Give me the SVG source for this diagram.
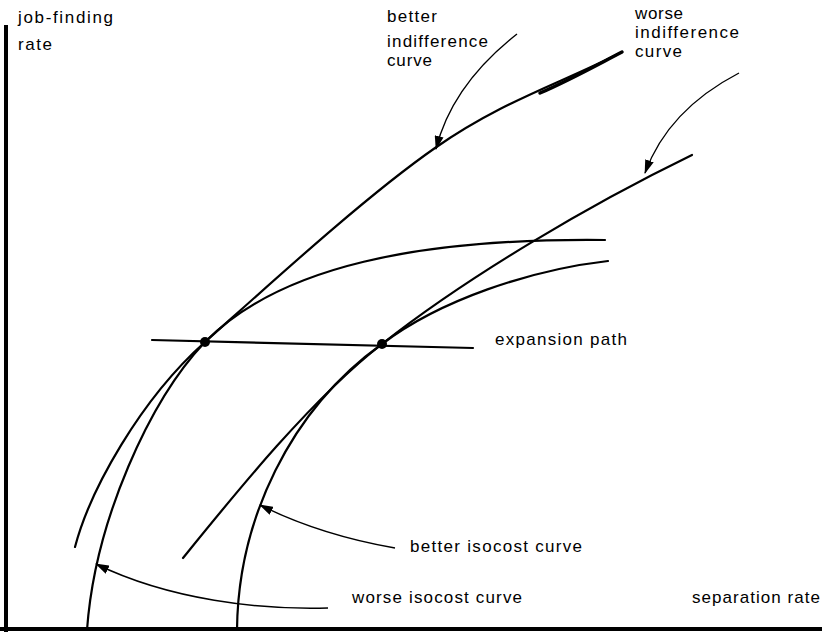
<svg xmlns="http://www.w3.org/2000/svg" width="825" height="632" viewBox="0 0 825 632">
<defs>
<marker id="ah" viewBox="0 0 14 9" refX="13" refY="4.5" markerWidth="14" markerHeight="9" markerUnits="userSpaceOnUse" orient="auto">
<path d="M0,0 L14,4.5 L0,9 Z" fill="#000"/>
</marker>
<style>
.t{font-family:"Liberation Sans","DejaVu Sans",sans-serif;font-size:17px;fill:#000}
.c{fill:none;stroke:#000;stroke-width:2.2;stroke-linecap:round}
.a{fill:none;stroke:#000;stroke-width:1.4;marker-end:url(#ah)}
.ax{fill:none;stroke:#000;stroke-width:4}
</style>
</defs>
<rect width="825" height="632" fill="#fff"/>
<g id="axes">
<line class="ax" x1="6" y1="25" x2="6" y2="632"/>
<line class="ax" x1="0" y1="629" x2="822" y2="629"/>
</g>
<g id="better-indifference-curve">
<path class="c" d="M75,547 C90,490 140,400 205,342 C270,284 366,196 435,148 C504,100 560,84 622,52"/>
<path class="c" style="stroke-width:3.5" d="M540,93 C570,80 595,66 622,52"/>
</g>
<g id="worse-indifference-curve">
<path class="c" d="M183,558 C230,500 310,400 382,344 C467,277 589,205 692,155"/>
</g>
<g id="worse-isocost-curve">
<path class="c" d="M87,630 C95,520 150,400 205,342 C280,266 420,238 605,240"/>
</g>
<g id="better-isocost-curve">
<path class="c" d="M237,630 C238,520 290,410 382,344 C440,300 530,270 608,261"/>
</g>
<g id="expansion-path">
<line class="c" x1="152" y1="340" x2="473" y2="348"/>
<circle cx="205" cy="342" r="5"/>
<circle cx="382" cy="344" r="5"/>
</g>
<g id="connectors">
<path class="a" d="M517,34 Q452,85 436,149"/>
<path class="a" d="M739,73 Q668,110 645,173"/>
<path class="a" d="M395,548 Q320,535 260,505"/>
<path class="a" d="M328,608 C260,610 170,600 96,564"/>
</g>
<g id="labels">
<text class="t" x="18" y="23" textLength="95" lengthAdjust="spacing">job-finding</text>
<text class="t" x="18" y="50" textLength="34" lengthAdjust="spacing">rate</text>
<text class="t" x="387" y="22" textLength="50" lengthAdjust="spacing">better</text>
<text class="t" x="387" y="47" textLength="101" lengthAdjust="spacing">indifference</text>
<text class="t" x="387" y="66" textLength="45" lengthAdjust="spacing">curve</text>
<text class="t" x="635" y="19" textLength="48" lengthAdjust="spacing">worse</text>
<text class="t" x="635" y="38" textLength="104" lengthAdjust="spacing">indifference</text>
<text class="t" x="635" y="57" textLength="47" lengthAdjust="spacing">curve</text>
<text class="t" x="495" y="345" textLength="132" lengthAdjust="spacing">expansion path</text>
<text class="t" x="410" y="552" textLength="172" lengthAdjust="spacing">better isocost curve</text>
<text class="t" x="352" y="603" textLength="170" lengthAdjust="spacing">worse isocost curve</text>
<text class="t" x="692" y="603" textLength="128" lengthAdjust="spacing">separation rate</text>
</g>
</svg>
